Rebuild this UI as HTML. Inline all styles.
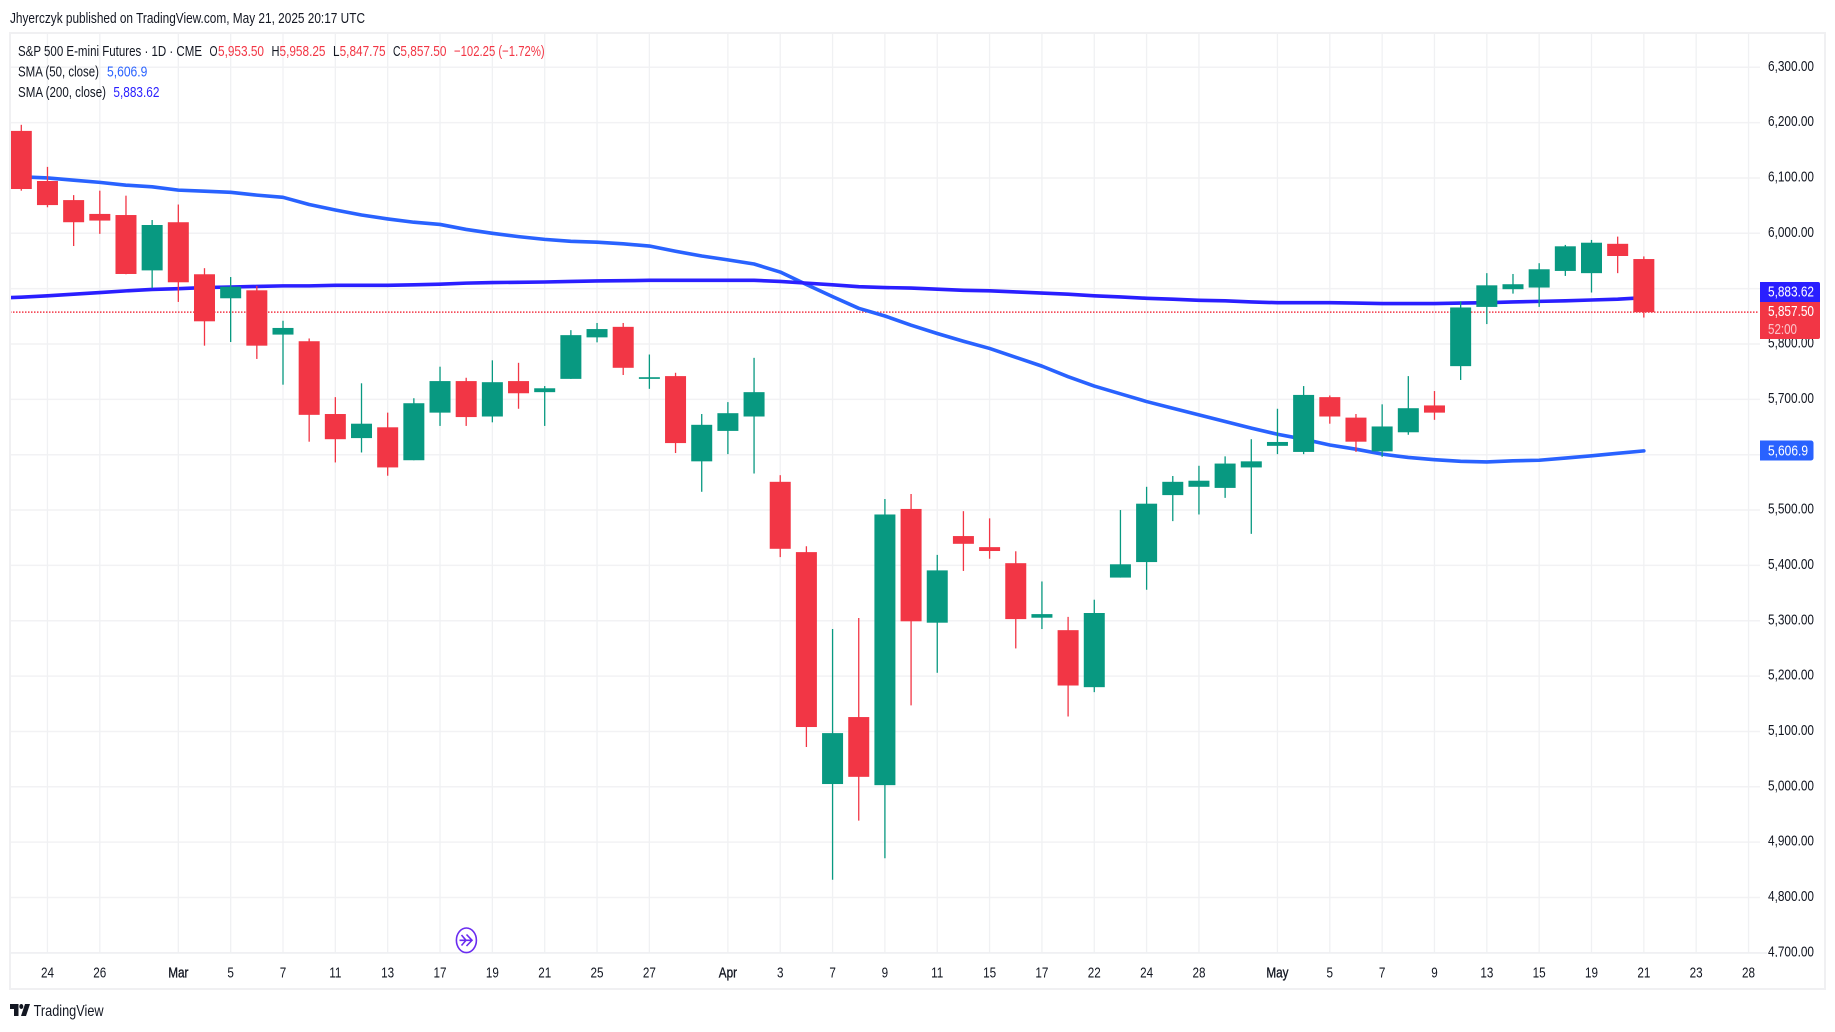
<!DOCTYPE html>
<html lang="en">
<head>
<meta charset="utf-8">
<title>S&amp;P 500 E-mini Futures chart</title>
<style>
html,body{margin:0;padding:0;background:#fff;width:1835px;height:1032px;overflow:hidden}
svg{display:block}
text{font-family:"Liberation Sans",sans-serif;fill:#131722}
</style>
</head>
<body>
<svg id="chart" xmlns="http://www.w3.org/2000/svg" width="1835" height="1032" viewBox="0 0 1835 1032">
  <defs>
    <clipPath id="plot-clip"><rect x="11" y="34" width="1749" height="919"/></clipPath>
    <clipPath id="axis-clip"><rect x="1760" y="34" width="64" height="923"/></clipPath>
  </defs>
  <rect x="0" y="0" width="1835" height="1032" fill="#ffffff"/>
  <text x="10" y="23" font-size="14.5" textLength="355" lengthAdjust="spacingAndGlyphs">Jhyerczyk published on TradingView.com, May 21, 2025 20:17 UTC</text>
  <rect x="10" y="33" width="1815" height="956" fill="none" stroke="#f0f0f2" stroke-width="2"/>
  <g id="grid" clip-path="url(#plot-clip)"></g>
  <g id="plot" clip-path="url(#plot-clip)"></g>
  <line x1="10" y1="953" x2="1767" y2="953" stroke="#eeeff2" stroke-width="1.5"/>
  <g id="price-axis" clip-path="url(#axis-clip)"></g>
  <g id="time-axis"></g>

  <g>
    <text x="18" y="56" font-size="14.5" textLength="184" lengthAdjust="spacingAndGlyphs">S&amp;P 500 E-mini Futures · 1D · CME</text>
    <text x="209.5" y="56" font-size="14.5" textLength="8" lengthAdjust="spacingAndGlyphs">O</text>
    <text x="218" y="56" font-size="14.5" style="fill:#f23645" textLength="46" lengthAdjust="spacingAndGlyphs">5,953.50</text>
    <text x="271.5" y="56" font-size="14.5" textLength="8" lengthAdjust="spacingAndGlyphs">H</text>
    <text x="279.5" y="56" font-size="14.5" style="fill:#f23645" textLength="46" lengthAdjust="spacingAndGlyphs">5,958.25</text>
    <text x="333" y="56" font-size="14.5" textLength="6.5" lengthAdjust="spacingAndGlyphs">L</text>
    <text x="339.6" y="56" font-size="14.5" style="fill:#f23645" textLength="46" lengthAdjust="spacingAndGlyphs">5,847.75</text>
    <text x="393" y="56" font-size="14.5" textLength="7.5" lengthAdjust="spacingAndGlyphs">C</text>
    <text x="400.4" y="56" font-size="14.5" style="fill:#f23645" textLength="46" lengthAdjust="spacingAndGlyphs">5,857.50</text>
    <text x="454" y="56" font-size="14.5" style="fill:#f23645" textLength="90.7" lengthAdjust="spacingAndGlyphs">−102.25 (−1.72%)</text>
    <text x="18" y="76.5" font-size="14.5" textLength="81" lengthAdjust="spacingAndGlyphs">SMA (50, close)</text>
    <text x="107" y="76.5" font-size="14.5" style="fill:#2962ff" textLength="40.4" lengthAdjust="spacingAndGlyphs">5,606.9</text>
    <text x="18" y="97" font-size="14.5" textLength="88" lengthAdjust="spacingAndGlyphs">SMA (200, close)</text>
    <text x="113.4" y="97" font-size="14.5" style="fill:#2a1fff" textLength="46" lengthAdjust="spacingAndGlyphs">5,883.62</text>
  </g>

  <g>
    <path d="M1760 282H1818a2 2 0 0 1 2 2V302H1760Z" fill="#2a1fff"/>
    <text x="1768" y="296.5" font-size="15" style="fill:#ffffff" textLength="46" lengthAdjust="spacingAndGlyphs">5,883.62</text>
    <path d="M1760 302H1820V337a2 2 0 0 1 -2 2H1760Z" fill="#f23645"/>
    <text x="1768" y="316" font-size="15" style="fill:#ffffff" textLength="46" lengthAdjust="spacingAndGlyphs">5,857.50</text>
    <text x="1768" y="334" font-size="15" style="fill:#fbc4ca" textLength="29" lengthAdjust="spacingAndGlyphs">52:00</text>
    <path d="M1760 440.5H1811a2.5 2.5 0 0 1 2.5 2.5V458a2.5 2.5 0 0 1 -2.5 2.5H1760Z" fill="#2962ff"/>
    <text x="1768" y="455.5" font-size="15" style="fill:#ffffff" textLength="40" lengthAdjust="spacingAndGlyphs">5,606.9</text>
  </g>

  <g fill="none" stroke="#6a2cf0" stroke-width="1.6">
    <ellipse cx="466.4" cy="940.3" rx="10" ry="12.3" fill="#ffffff"/>
    <path d="M459.5 940.3H472M466.5 934.5L472 940.3L466.5 946M461.5 935L466 940.3L461.5 945.5"/>
  </g>

  <g fill="#131722">
    <path d="M10 1004H18.5V1016H14V1009H10Z"/>
    <ellipse cx="21.3" cy="1006.5" rx="2" ry="2.5"/>
    <path d="M25 1004H30L26 1016H21Z"/>
  </g>
  <text x="33.6" y="1016" font-size="16" textLength="70" lengthAdjust="spacingAndGlyphs">TradingView</text>
</svg>

<script>
// ---- Data ----
const dates = ["Feb 21","Feb 24","Feb 25","Feb 26","Feb 27","Feb 28","Mar 3","Mar 4","Mar 5","Mar 6","Mar 7","Mar 10","Mar 11","Mar 12","Mar 13","Mar 14","Mar 17","Mar 18","Mar 19","Mar 20","Mar 21","Mar 24","Mar 25","Mar 26","Mar 27","Mar 28","Mar 31","Apr 1","Apr 2","Apr 3","Apr 4","Apr 7","Apr 8","Apr 9","Apr 10","Apr 11","Apr 14","Apr 15","Apr 16","Apr 17","Apr 21","Apr 22","Apr 23","Apr 24","Apr 25","Apr 28","Apr 29","Apr 30","May 1","May 2","May 5","May 6","May 7","May 8","May 9","May 12","May 13","May 14","May 15","May 16","May 19","May 20","May 21"];
const opens = [6185,6094.5,6060,6035,6033,5933,6020,5926,5882.6,5897,5817,5805,5673.5,5630,5649.5,5590,5676,5733,5669,5733,5713,5737,5812,5831,5737,5742,5588,5643,5669,5551,5424,5005,5126,5003,5502,5296.5,5453,5433,5404,5305.5,5283,5180,5378,5406,5527,5542,5540,5577,5616,5605,5704,5667,5606,5640.5,5689,5760,5867,5899,5902,5932,5928,5981,5953.5];
const highs = [6196,6120,6069,6077,6068,6024,6052,5937,5921,5905,5842,5810,5704,5729,5676,5702,5759,5739,5770.5,5766,5724,5825,5838,5838,5781,5748,5673.5,5695,5775,5563,5434.5,5285,5305,5520,5529,5419,5498,5485,5425.5,5371,5307,5338,5500,5542,5561.5,5580,5597,5628,5683,5724,5707,5673.5,5691,5742,5715,5877,5928,5926.5,5946,5979,5988,5994,5958.25];
const lows = [6077,6047,5977,5999,5926,5901,5876,5797,5803.6,5773,5726.5,5623.5,5586,5604,5562,5590,5652,5652,5658.5,5683,5652,5737,5803,5744,5719,5603,5533,5601,5566,5415,5072,4832,4939,4871,5147,5206,5390,5412,5250,5285,5127,5171,5378,5356,5480,5492,5522,5457,5601,5601,5656,5605,5596,5636,5663,5735,5836,5891,5867,5923,5893,5928,5847.75];
const closes = [6080,6051,6020,6023,5926.5,6015,5911.5,5841,5903.5,5797,5829,5672,5628,5656,5577,5693,5733,5668,5731,5711,5720,5816,5827,5757,5740,5621,5654,5675,5713,5430,5108,5097,5018,5492,5299,5391,5439,5426,5303,5312,5183,5314,5402,5511.5,5551,5553,5584,5588,5623,5708,5669,5623.5,5651,5684,5676,5866,5906,5908,5935,5976.5,5983,5959,5857.5];
// SMA series begin one session before the first candle (Feb 20), which sits off the left edge.
const sma50 = [6103.5,6102,6100,6096,6092,6087,6084,6078,6076,6074,6069,6065,6052,6042,6033,6026,6020,6016,6007,6000,5994,5989,5985.5,5984,5981,5977,5967.5,5959,5952,5944.5,5930,5907.5,5885.5,5864.5,5850.6,5834,5819,5805,5792,5776,5760,5741,5724,5710,5696,5684,5672,5660,5648,5637,5628,5617.5,5610,5601,5595,5591,5588,5587,5589,5590,5594,5598,5602.5,5606.9];
const sma200 = [5883,5884.6,5887,5890,5893,5896,5898.5,5900,5902,5903,5904,5905,5905,5906,5906,5906,5907,5908,5910,5911,5911.5,5912,5913,5914,5914.4,5915,5915,5915,5915,5915,5913,5910,5907,5903.5,5902,5901,5899,5897,5896,5894,5892,5890,5887,5885,5882.6,5881,5879,5878,5876,5874.6,5874.6,5874.6,5874,5873,5873,5873,5874,5874.6,5876,5877,5878,5879.5,5881,5883.62];
const priceTicks = [6300,6200,6100,6000,5900,5800,5700,5600,5500,5400,5300,5200,5100,5000,4900,4800,4700];
const timeTickSessions = [1,3,6,8,10,12,14,16,18,20,22,24,27,29,31,33,35,37,39,41,43,45,48,50,52,54,56,58,60,62,64,66];
const timeTickLabels = ["24","26","Mar","5","7","11","13","17","19","21","25","27","Apr","3","7","9","11","15","17","22","24","28","May","5","7","9","13","15","19","21","23","28"];
const lastPrice = 5857.5;

// ---- Axis functions ----
const xScale = i => 21.3 + 26.17 * i;
const yScale = p => 233.3 + (6000 - p) * 0.5535;
const NS = 'http://www.w3.org/2000/svg';
const UP = '#089981', DOWN = '#f23645';
const gridG = document.getElementById('grid');
const plotG = document.getElementById('plot');
const priceG = document.getElementById('price-axis');
const timeG = document.getElementById('time-axis');
const fmt = p => p.toLocaleString('en-US', {minimumFractionDigits: 2, maximumFractionDigits: 2});
function svgEl(tag, attrs, parent) {
  const el = document.createElementNS(NS, tag);
  for (const k in attrs) el.setAttribute(k, attrs[k]);
  parent.appendChild(el);
  return el;
}

// Horizontal grid + price tick labels
priceTicks.forEach(p => {
  const y = yScale(p);
  const line = svgEl('line', {x1: 10, x2: 1760, y1: y, y2: y, stroke: '#f2f2f4', 'stroke-width': 1.5}, gridG);
  
  
  const t = svgEl('text', {x: 1768, y: y + 3.5, 'font-size': 15, textLength: 46, lengthAdjust: 'spacingAndGlyphs'}, priceG);
  t.textContent = fmt(p);
  
  
});

// Vertical grid + time tick labels
timeTickSessions.forEach((s, k) => {
  const x = xScale(s);
  const line = svgEl('line', {x1: x, x2: x, y1: 34, y2: 953, stroke: '#f0f1f3', 'stroke-width': 1.3}, gridG);
  
  
  const label = timeTickLabels[k];
  const isMonth = isNaN(Number(label));
  const t = svgEl('text', {x: x, y: 977.5, 'font-size': 15, 'text-anchor': 'middle'}, timeG);
  t.textContent = label;
  if (isMonth) t.setAttribute('style', 'stroke:#131722;stroke-width:0.35');
  
  
  t.setAttribute('textLength', (t.getComputedTextLength() * 0.78).toFixed(1));
  t.setAttribute('lengthAdjust', 'spacingAndGlyphs');
});

// Last price dotted line
const lastLine = svgEl('line', {x1: 10, x2: 1758, y1: yScale(lastPrice), y2: yScale(lastPrice), stroke: DOWN, 'stroke-width': 1.5, 'stroke-dasharray': '1.5 1.5'}, plotG);



// SMA lines
function drawLine(values, color) {
  const pts = values.map((v, i) => xScale(i - 1).toFixed(2) + ',' + yScale(v).toFixed(2)).join(' ');
  return svgEl('polyline', {points: pts, fill: 'none', stroke: color, 'stroke-width': 3.6, 'stroke-linejoin': 'round', 'stroke-linecap': 'round'}, plotG);
}
const sma50Line = drawLine(sma50, '#2962ff');


const sma200Line = drawLine(sma200, '#2a1fff');



// Candles
opens.forEach((o, i) => {
  const c = closes[i];
  const color = c >= o ? UP : DOWN;
  const x = xScale(i);
  const g = svgEl('g', {}, plotG);
  
  
  const title = svgEl('title', {}, g);
  title.textContent = dates[i];
  const wick = svgEl('line', {x1: x, x2: x, y1: yScale(highs[i]), y2: yScale(lows[i]), stroke: color, 'stroke-width': 1.3}, g);
  
  
  const top = yScale(Math.max(o, c));
  const bot = yScale(Math.min(o, c));
  const body = svgEl('rect', {x: x - 10.5, y: top, width: 21, height: Math.max(bot - top, 1), fill: color}, g);
  
  
});
</script>
</body>
</html>
